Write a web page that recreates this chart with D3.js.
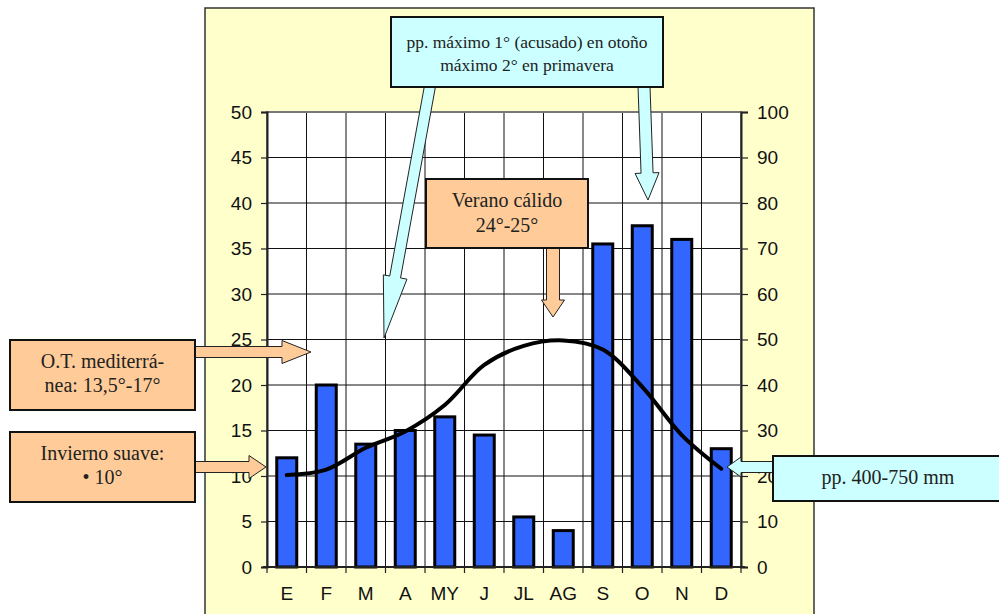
<!DOCTYPE html>
<html><head><meta charset="utf-8">
<script src="https://cdn.jsdelivr.net/npm/d3@7"></script>
<style>html,body{margin:0;padding:0;background:#fff;}svg{display:block;}</style>
</head><body>
<svg id="c" width="999" height="614"></svg>
<script>
const months = ["E","F","M","A","MY","J","JL","AG","S","O","N","D"];
const precipitation = [24, 40, 27, 30, 33, 29, 11, 8, 71, 75, 72, 26];
const temperature = [10.1, 10.7, 13.1, 14.9, 17.8, 22.2, 24.3, 24.9, 23.9, 19.8, 14.5, 10.8];
const tempTicks = [0,5,10,15,20,25,30,35,40,45,50];
const precipTicks = [0,10,20,30,40,50,60,70,80,90,100];

const svg = d3.select("#c");
const L = 267, R = 741, T = 112, B = 567;
const x = d3.scaleBand().domain(months).range([L, R]).padding(0);
const yT = d3.scaleLinear().domain([0, 50]).range([B, T]);
const yP = d3.scaleLinear().domain([0, 100]).range([B, T]);
const sans = "Arial, 'Liberation Sans', sans-serif";
const serif = "'Times New Roman', 'Liberation Serif', serif";

// outer panel
svg.append("rect").attr("x", 205).attr("y", 8).attr("width", 609).attr("height", 620)
  .attr("fill", "#FFFFCC").attr("stroke", "#333").attr("stroke-width", 1.5);

// plot area
svg.append("rect").attr("x", L).attr("y", T).attr("width", R - L).attr("height", B - T)
  .attr("fill", "#fff");

const g = svg.append("g");
// horizontal grid
g.selectAll(".hg").data(tempTicks).enter().append("line")
  .attr("x1", L).attr("x2", R).attr("y1", d => yT(d)).attr("y2", d => yT(d))
  .attr("stroke", "#111").attr("stroke-width", 1);
// vertical grid at category boundaries
const bounds = months.map(m => x(m)).concat([R]);
g.selectAll(".vg").data(bounds).enter().append("line")
  .attr("x1", d => d).attr("x2", d => d).attr("y1", T).attr("y2", B)
  .attr("stroke", "#111").attr("stroke-width", 1);
// plot border
svg.append("rect").attr("x", L).attr("y", T).attr("width", R - L).attr("height", B - T)
  .attr("fill", "none").attr("stroke", "#777").attr("stroke-width", 2);

// bars
const barW = 20;
svg.selectAll(".bar").data(months).enter().append("rect")
  .attr("x", (m) => x(m) + x.bandwidth() / 2 - barW / 2)
  .attr("y", (m, i) => yP(precipitation[i]))
  .attr("width", barW)
  .attr("height", (m, i) => B - yP(precipitation[i]))
  .attr("fill", "#3366FF").attr("stroke", "#000").attr("stroke-width", 3);

// temperature line
const line = d3.line().x((d, i) => x(months[i]) + x.bandwidth() / 2).y(d => yT(d))
  .curve(d3.curveCatmullRom.alpha(0.5));
svg.append("path").datum(temperature).attr("d", line)
  .attr("fill", "none").attr("stroke", "#000").attr("stroke-width", 4)
  .attr("stroke-linejoin", "round").attr("stroke-linecap", "round");

// axes
const leftAxis = d3.axisLeft(yT).tickValues(tempTicks).tickSize(6).tickPadding(9);
const rightAxis = d3.axisRight(yP).tickValues(precipTicks).tickSize(7).tickPadding(9);
const bottomAxis = d3.axisBottom(x).tickSize(0).tickPadding(20);
function styleAxis(sel) {
  sel.selectAll("path").attr("stroke", "#222").attr("stroke-width", 2);
  sel.selectAll("line").attr("stroke", "#222").attr("stroke-width", 1.2);
  sel.selectAll("text").attr("font-family", sans).attr("font-size", 19).attr("fill", "#111");
}
svg.append("g").attr("transform", `translate(${L},0)`).call(leftAxis).call(styleAxis);
svg.append("g").attr("transform", `translate(${R},0)`).call(rightAxis).call(styleAxis);
const bx = svg.append("g").attr("transform", `translate(0,${B})`).call(bottomAxis).call(styleAxis);
bx.select("path").attr("d", `M${L - 4},0H${R + 4}`);
// bottom ticks at category boundaries
svg.selectAll(".bt").data(bounds).enter().append("line")
  .attr("x1", d => d).attr("x2", d => d).attr("y1", B).attr("y2", B + 6)
  .attr("stroke", "#222").attr("stroke-width", 1.2);

// block arrows
function blockArrow(x1, y1, x2, y2, sw, hw, hl, fill) {
  const dx = x2 - x1, dy = y2 - y1, len = Math.hypot(dx, dy);
  const ux = dx / len, uy = dy / len, nx = -uy, ny = ux;
  const nxp = x2 - ux * hl, nyp = y2 - uy * hl;
  const pts = [
    [x1 + nx * sw / 2, y1 + ny * sw / 2],
    [nxp + nx * sw / 2, nyp + ny * sw / 2],
    [nxp + nx * hw / 2, nyp + ny * hw / 2],
    [x2, y2],
    [nxp - nx * hw / 2, nyp - ny * hw / 2],
    [nxp - nx * sw / 2, nyp - ny * sw / 2],
    [x1 - nx * sw / 2, y1 - ny * sw / 2]
  ];
  svg.append("polygon").attr("points", pts.map(p => p.join(",")).join(" "))
    .attr("fill", fill).attr("stroke", "#222").attr("stroke-width", 1);
}
function box(x0, y0, w, h, fill, lines, cx, baselines, fs) {
  svg.append("rect").attr("x", x0).attr("y", y0).attr("width", w).attr("height", h)
    .attr("fill", fill).attr("stroke", "#111").attr("stroke-width", 2);
  lines.forEach((t, i) => {
    svg.append("text").attr("x", cx).attr("y", baselines[i]).attr("text-anchor", "middle")
      .attr("font-family", serif).attr("font-size", fs).attr("fill", "#222").text(t);
  });
}
const cyan = "#CCFFFF", orange = "#FFCC99";

blockArrow(430, 86, 384, 338, 11, 24, 62, cyan);
blockArrow(644, 86, 648, 200, 12, 24, 27, cyan);
blockArrow(553, 246, 553, 317, 13, 23, 17, orange);
blockArrow(193, 352, 311, 352, 11, 23, 29, orange);
blockArrow(193, 467, 266, 467, 11, 23, 17, orange);
blockArrow(775, 467, 727, 467, 11, 20, 14, cyan);

box(391, 17, 272, 70, cyan, ["pp. máximo 1° (acusado) en otoño", "máximo 2° en primavera"], 527, [48, 71], 17.5);
box(426, 179, 162, 69, orange, ["Verano cálido", "24°-25°"], 507, [207, 232], 20);
box(10, 340, 185, 70, orange, ["O.T. mediterrá-", "nea: 13,5°-17°"], 102.5, [368, 392], 20);
box(10, 432, 185, 70, orange, ["Invierno suave:", "• 10°"], 102.5, [460, 484], 20);
box(773, 456, 230, 45, cyan, ["pp. 400-750 mm"], 888, [484], 20);
</script>
</body></html>
